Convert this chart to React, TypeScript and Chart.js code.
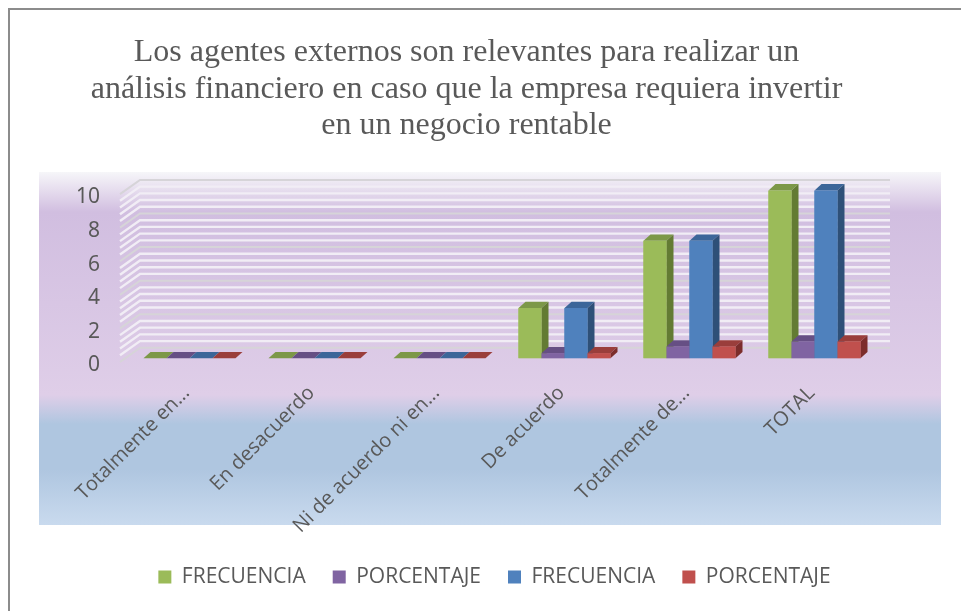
import React, { useEffect, useRef } from "react";
import { Chart, registerables } from "chart.js";

Chart.register(...registerables);

const categories = ["Totalmente en...", "En desacuerdo", "Ni de acuerdo ni en...", "De acuerdo", "Totalmente de...", "TOTAL"];
const frecuencia1 = [0, 0, 0, 3, 7, 10];
const porcentaje1 = [0, 0, 0, 0.3, 0.7, 1];
const frecuencia2 = [0, 0, 0, 3, 7, 10];
const porcentaje2 = [0, 0, 0, 0.3, 0.7, 1];
const titleLines = [
  "Los agentes externos son relevantes para realizar un",
  "análisis financiero en caso que la empresa requiera invertir",
  "en un negocio rentable",
];
const faceColors = ["#9BBB59", "#8064A2", "#4F81BD", "#C0504D"];
const topColors = ["#7C9848", "#664F84", "#3C6699", "#9A3E3B"];
const sideColors = ["#637B33", "#523E6C", "#2E5078", "#7C2D2B"];
const gridMinor = [0.4, 0.8, 1.2, 1.6, 2.4, 2.8, 3.2, 3.6, 4.4, 4.8, 5.2, 5.6, 6.4, 6.8, 7.2, 7.6, 8.4, 8.8, 9.2, 9.6];
const gridMajor = [0, 2, 4, 6, 8, 10];

const TEXT = "#595959";
const DX = 7;
const DY = -6.3;

function poly(ctx: CanvasRenderingContext2D, pts: number[][], color: string) {
  ctx.fillStyle = color;
  ctx.beginPath();
  pts.forEach((p, i) => (i ? ctx.lineTo(p[0], p[1]) : ctx.moveTo(p[0], p[1])));
  ctx.closePath();
  ctx.fill();
}

const scene = {
  id: "scene",
  afterLayout(chart: any) {
    const t = chart.titleBlock;
    t.left = 0;
    t.right = 933;
    const l = chart.legend;
    l.left = 0;
    l.right = 989;
    l.top = 539.5;
  },
  beforeDraw(chart: any) {
    const { ctx } = chart;
    ctx.save();
    ctx.fillStyle = "#ffffff";
    ctx.fillRect(0, 0, 961, 611);
    ctx.fillStyle = "#8c8c8c";
    ctx.fillRect(8, 8, 953, 2);
    ctx.fillRect(8, 8, 2, 603);
    const top = 172;
    const h = 525 - 172;
    const g = ctx.createLinearGradient(0, top, 0, 525);
    const stop = (y: number, c: string) => g.addColorStop((y - top) / h, c);
    stop(172, "#f6f6f9");
    stop(190, "#e6ddee");
    stop(212, "#d1bee0");
    stop(395, "#dfcee8");
    stop(424, "#afc6e0");
    stop(470, "#afc6e0");
    stop(525, "#c9daee");
    ctx.fillStyle = g;
    ctx.fillRect(39, top, 902, h);
    ctx.restore();
  },
  beforeDatasetsDraw(chart: any) {
    const { ctx, chartArea } = chart;
    const y = chart.scales.y;
    const xFront = chartArea.left - 7;
    const xBack = chartArea.left + 13;
    const xEnd = chartArea.right + 13;
    const line = (v: number, color: string, w: number) => {
      const p = y.getPixelForValue(v);
      ctx.strokeStyle = color;
      ctx.lineWidth = w;
      ctx.beginPath();
      ctx.moveTo(xFront, p + 3.7);
      ctx.lineTo(xBack, p - 10.5);
      ctx.lineTo(xEnd, p - 10.5);
      ctx.stroke();
    };
    ctx.save();
    gridMinor.forEach((v) => line(v, "#f1edf5", 2.4));
    gridMajor.forEach((v) => line(v, "#d6d4d8", 2));
    ctx.restore();
  },
  afterDatasetsDraw(chart: any) {
    const { ctx } = chart;
    ctx.save();
    chart.data.datasets.forEach((_: any, i: number) => {
      chart.getDatasetMeta(i).data.forEach((el: any) => {
        const { x, y, base, width } = el.getProps(["x", "y", "base", "width"], true);
        const l = x - width / 2;
        const r = x + width / 2;
        poly(ctx, [[l, y], [l + DX, y + DY], [r + DX, y + DY], [r, y]], topColors[i]);
        poly(ctx, [[r, y], [r + DX, y + DY], [r + DX, base + DY], [r, base]], sideColors[i]);
        el.draw(ctx);
      });
    });
    ctx.restore();
  },
};

export default function App() {
  const ref = useRef<HTMLCanvasElement>(null);
  useEffect(() => {
    document.body.style.margin = "0";
    const series = [
      { label: "FRECUENCIA", data: frecuencia1 },
      { label: "PORCENTAJE", data: porcentaje1 },
      { label: "FRECUENCIA", data: frecuencia2 },
      { label: "PORCENTAJE", data: porcentaje2 },
    ];
    const chart = new Chart(ref.current as HTMLCanvasElement, {
      type: "bar",
      data: {
        labels: categories,
        datasets: series.map((s, i) => ({
          ...s,
          backgroundColor: faceColors[i],
          borderWidth: 0,
          barPercentage: 1,
          categoryPercentage: 0.736,
        })),
      },
      plugins: [scene],
      options: {
        responsive: false,
        animation: false,
        layout: { padding: { left: 0, right: 84, top: 0, bottom: 0 } },
        plugins: {
          tooltip: { enabled: false },
          title: {
            display: true,
            text: titleLines,
            color: TEXT,
            font: { family: "'Liberation Serif'", size: 32, weight: "normal", lineHeight: 1.15 },
            padding: { top: 34, bottom: 46 },
          },
          legend: {
            position: "bottom",
            labels: {
              color: TEXT,
              font: { family: "'Open Sans'", size: 21 },
              boxWidth: 13,
              boxHeight: 13,
              padding: 27,
            },
          },
        },
        scales: {
          x: {
            grid: { display: false },
            border: { display: false },
            ticks: {
              color: TEXT,
              font: { family: "'Open Sans'", size: 20 },
              minRotation: 45,
              maxRotation: 45,
              autoSkip: false,
              padding: 15,
              labelOffset: -3,
            },
            afterFit: (s: any) => {
              s.height = 252.7 - (s.chart.legend ? s.chart.legend.height : 78);
            },
          },
          y: {
            min: 0,
            max: 10,
            grid: { display: false },
            border: { display: false },
            ticks: {
              stepSize: 2,
              color: TEXT,
              font: { family: "'Noto Sans'", size: 21 },
              padding: 19,
              labelOffset: 7,
            },
            afterFit: (s: any) => {
              s.width = 127;
            },
          },
        },
      },
    } as any);
    return () => chart.destroy();
  }, []);
  return <canvas ref={ref} width={961} height={611} style={{ display: "block" }} />;
}
